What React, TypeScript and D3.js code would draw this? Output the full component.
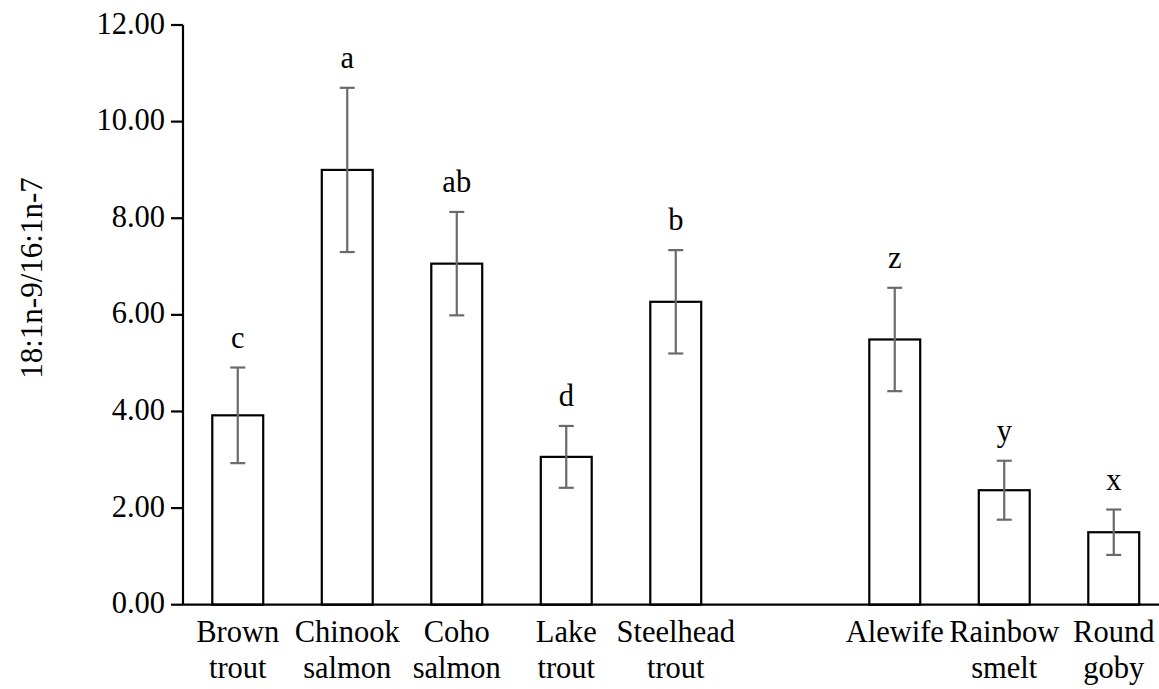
import React from "react";
import * as d3 from "d3";

// Slot keys along the x axis; "gap" is an empty slot separating predators from prey fish.
const slots = ["brown", "chinook", "coho", "lake", "steelhead", "gap", "alewife", "rainbow", "round"];
const species = ["brown", "chinook", "coho", "lake", "steelhead", "alewife", "rainbow", "round"];
const labelLines = [
  ["Brown", "trout"],
  ["Chinook", "salmon"],
  ["Coho", "salmon"],
  ["Lake", "trout"],
  ["Steelhead", "trout"],
  ["Alewife"],
  ["Rainbow", "smelt"],
  ["Round", "goby"],
];
const means = [3.92, 9.0, 7.06, 3.06, 6.27, 5.49, 2.37, 1.5];
const errors = [0.99, 1.7, 1.07, 0.64, 1.07, 1.07, 0.61, 0.47];
const groupLetters = ["c", "a", "ab", "d", "b", "z", "y", "x"];
const yTicks = [0, 2, 4, 6, 8, 10, 12];
const yTitle = "18:1n-9/16:1n-7";

const W = 1159;
const H = 689;
const FAMILY = '"Liberation Serif"';
const BASE = 36; // text is laid out at this size and scaled to its drawn size

function Label(props: {
  x: number;
  y: number;
  size?: number;
  anchor?: "start" | "middle" | "end";
  dy?: string;
  rotate?: number;
  children: React.ReactNode;
}) {
  const { x, y, size = 30.5, anchor = "middle", dy, rotate = 0, children } = props;
  const k = size / BASE;
  return (
    <text
      transform={`translate(${x},${y}) rotate(${rotate}) scale(${k})`}
      dy={dy}
      textAnchor={anchor}
      fontSize={BASE}
      style={{ fontFamily: FAMILY }}
      fill="#000"
    >
      {children}
    </text>
  );
}

export default function App() {
  const x0 = 183;
  const x = d3
    .scaleBand<string>()
    .domain(slots)
    .range([x0, x0 + 9 * 109.5])
    .paddingInner(0.535)
    .paddingOuter(0.2675);
  const y = d3.scaleLinear().domain([0, 12]).range([604.7, 25]);
  const bw = x.bandwidth();
  const cap = 7.5;
  const cx = (s: string) => x(s)! + bw / 2;

  return (
    <svg
      width={W}
      height={H}
      style={{ position: "absolute", left: 0, top: 0 }}
    >
      <rect x={0} y={0} width={W} height={H} fill="#fff" />

      {/* bars */}
      {species.map((s, i) => (
        <rect
          key={s}
          x={x(s)!}
          y={y(means[i])}
          width={bw}
          height={y(0) - y(means[i])}
          fill="#fff"
          stroke="#000"
          strokeWidth={2.2}
        />
      ))}

      {/* error bars */}
      {species.map((s, i) => {
        const top = y(means[i] + errors[i]);
        const bot = y(means[i] - errors[i]);
        return (
          <g key={s} stroke="#6a6a6a" strokeWidth={2.2}>
            <line x1={cx(s)} x2={cx(s)} y1={top} y2={bot} />
            <line x1={cx(s) - cap} x2={cx(s) + cap} y1={top} y2={top} />
            <line x1={cx(s) - cap} x2={cx(s) + cap} y1={bot} y2={bot} />
          </g>
        );
      })}

      {/* significance letters */}
      {species.map((s, i) => (
        <Label key={s} x={cx(s)} y={y(means[i] + errors[i]) - 20}>
          {groupLetters[i]}
        </Label>
      ))}

      {/* y axis */}
      <line x1={x0} x2={x0} y1={y(12)} y2={y(0)} stroke="#000" strokeWidth={2.2} />
      {yTicks.map((t) => (
        <g key={t}>
          <line x1={x0 - 12} x2={x0} y1={y(t)} y2={y(t)} stroke="#000" strokeWidth={2.2} />
          <Label x={x0 - 18} y={y(t)} dy="0.28em" anchor="end">
            {t.toFixed(2)}
          </Label>
        </g>
      ))}

      {/* x axis */}
      <line x1={x0} x2={W} y1={y(0)} y2={y(0)} stroke="#000" strokeWidth={2.2} />
      {species.map((s, i) =>
        labelLines[i].map((ln, j) => (
          <Label key={s + j} x={cx(s)} y={642 + j * 36}>
            {ln}
          </Label>
        ))
      )}

      {/* y axis title */}
      <Label x={42} y={278} size={31} rotate={-90}>
        {yTitle}
      </Label>
    </svg>
  );
}
